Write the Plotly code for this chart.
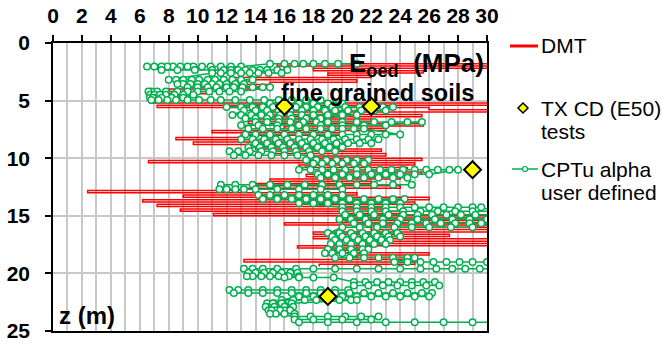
import plotly.graph_objects as go

# ---- DMT constrained modulus profile (one reading per 0.2 m) ----
DMT_Z = [1.6, 1.8, 2.0, 2.2, 2.4, 2.6, 2.8, 3.0, 3.2, 3.4, 3.6, 3.8, 4.0, 4.2, 4.4,
         4.6, 4.8, 5.0, 5.2, 5.4, 5.6, 5.8, 6.0, 6.2, 6.4, 6.6, 6.8, 7.0, 7.2, 7.4,
         7.6, 7.8, 8.0, 8.2, 8.4, 8.6, 8.8, 9.0, 9.2, 9.4, 9.6, 9.8, 10.0, 10.2, 10.4,
         10.6, 10.8, 11.0, 11.2, 11.4, 11.6, 11.8, 12.0, 12.2, 12.4, 12.6, 12.8, 13.0,
         13.2, 13.4, 13.6, 13.8, 14.0, 14.2, 14.4, 14.6, 14.8, 15.0, 15.2, 15.4, 15.6,
         15.8, 16.0, 16.2, 16.4, 16.6, 16.8, 17.0, 17.2, 17.4, 17.6, 17.8, 18.0, 18.2,
         18.4, 18.6, 18.8, 19.0, 19.2, 19.4]
DMT_E = [31.0, 15.5, 31.0, 18.0, 25.6, 19.0, 22.0, 12.3, 21.0, 15.0, 10.0, 14.5, 8.0, 11.0, 7.4,
         9.0, 7.0, 6.7, 31.0, 7.2, 26.0, 31.0, 15.0, 25.5, 14.0, 22.0, 13.5, 25.6, 16.0, 23.0,
         11.0, 20.0, 13.0, 8.5, 17.0, 9.7, 20.0, 14.0, 22.7, 15.0, 23.0, 18.0, 25.5, 6.6, 25.0,
         17.0, 24.5, 19.0, 25.5, 17.5, 24.0, 15.0, 22.0, 14.0, 24.0, 13.0, 2.4, 21.0,
         9.0, 26.0, 6.2, 25.0, 7.2, 23.0, 8.8, 24.0, 11.1, 30.5, 20.0, 31.0, 16.0,
         31.0, 22.0, 31.0, 18.0, 27.4, 18.0, 31.0, 21.0, 31.0, 16.9, 22.0, 19.0, 26.0,
         21.0, 25.0, 13.2, 25.0, 18.4, 18.4]

# ---- CPTu (alpha, user defined): readings grouped by depth ----
CPT_ROW_Z = [1.80, 2.05, 2.35, 2.60, 3.20, 3.55, 3.85, 4.20, 4.50, 4.75, 4.95, 5.25,
             5.55, 5.85, 6.25, 6.55, 6.85, 7.15, 7.45, 7.95, 8.35, 8.70, 9.05, 9.40,
             9.75, 10.15, 10.45, 11.00, 11.40, 11.70, 12.30, 12.70, 13.20, 13.55, 13.90,
             14.25, 14.60, 14.90, 15.30, 15.65, 16.00, 16.50, 16.80, 17.10, 17.45, 17.90,
             18.25, 18.65, 19.00, 19.60, 19.95, 20.25, 20.35, 20.75, 21.05, 21.45, 21.70,
             22.00, 22.30, 22.60, 22.90, 23.20, 23.50, 23.75, 24.00, 24.25]
CPT_ROW_E = [
    [21.0, 19.7, 18.8, 18.0, 17.3, 16.7, 16.0, 15.0],
    [13.0, 12.3, 11.6, 10.9, 10.3, 9.7, 9.3, 8.8, 8.3, 7.9, 7.5, 7.0, 6.5],
    [7.5, 8.6, 9.8, 11.0, 11.8, 12.3, 12.8, 13.3, 13.8, 14.3, 14.8, 15.5, 16.2],
    [15.8, 14.9, 14.2, 13.6, 13.0, 12.3, 11.6, 11.0],
    [8.0, 8.5, 9.0, 9.6, 10.1, 10.7, 11.2, 11.8, 12.4, 13.0, 13.8],
    [13.2, 12.6, 12.0, 11.5, 11.0, 10.5, 10.0, 9.5, 9.0, 8.6],
    [9.3, 10.0, 10.7, 11.3, 12.0, 12.5, 13.1, 13.8, 14.5, 15.0],
    [13.0, 12.2, 11.5, 10.8, 10.0, 9.3, 8.6, 7.8, 7.2, 6.8, 6.6],
    [6.7, 7.0, 7.4, 7.8, 8.4, 9.0, 9.7],
    [9.0, 8.2, 7.5, 7.0, 6.7, 6.9],
    [6.8, 7.3, 7.9, 8.5, 9.3, 10.1, 10.9, 11.6, 12.6, 13.6, 14.6, 15.6, 16.5, 17.5, 18.5],
    [20.0, 19.0, 18.0, 17.0, 16.0, 15.0],
    [12.0, 13.0, 13.8, 14.5, 15.2, 16.0, 16.8, 17.5, 18.3, 19.3, 20.2, 21.2, 22.0, 22.8, 23.5],
    [23.0, 22.2, 21.3, 20.4, 19.5, 18.8, 18.0, 17.2, 16.4, 15.6, 14.8, 14.0, 13.2],
    [12.4, 13.0, 13.7, 14.4, 15.0, 15.7, 16.4, 17.2, 18.0, 19.0, 20.0, 21.0],
    [18.5, 17.5, 16.5, 15.6, 14.8, 14.0, 13.3],
    [14.0, 14.8, 15.6, 16.4, 17.3, 18.2, 19.0, 20.0, 21.0, 22.2, 23.4, 24.5, 25.5],
    [23.0, 21.5, 20.0, 18.5, 17.0, 15.5, 14.2, 13.0],
    [13.5, 14.5, 15.5, 16.5, 17.5, 18.5, 19.3, 20.0, 20.8, 21.5],
    [24.0, 23.0, 22.0, 21.0, 20.0, 19.0, 18.0, 17.0, 16.0, 15.0, 14.0, 13.3],
    [13.0, 13.8, 14.6, 15.4, 16.2, 17.0, 17.8, 18.6, 19.4, 20.2, 21.0, 21.8, 22.5],
    [22.0, 21.2, 20.4, 19.6, 18.8, 18.0, 17.2, 16.4, 15.6, 14.8, 14.0],
    [13.5, 14.3, 15.1, 15.9, 16.7, 17.5, 18.3, 19.1, 20.0],
    [19.5, 18.6, 17.7, 16.8, 16.0, 15.2, 14.4, 13.6, 12.8, 12.2],
    [12.5, 13.3, 14.2, 15.1, 16.0, 16.9, 17.8],
    [17.5, 18.2, 18.9, 19.6, 20.3, 21.0, 21.8],
    [21.5, 20.8, 20.0, 19.3, 18.6, 18.0],
    [17.0, 17.8, 18.6, 19.4, 20.2, 21.0, 21.8, 22.6, 23.4, 24.2, 25.0, 25.8, 26.6, 27.4, 28.0],
    [26.0, 25.0, 24.0, 23.0, 22.0, 21.0, 20.0, 19.0, 18.3],
    [18.5, 19.5, 20.5, 21.5, 22.5, 23.5, 24.5],
    [24.8, 23.5, 22.2, 21.0, 19.8, 18.6, 17.4, 16.2, 15.0, 13.8, 12.6, 11.6],
    [11.5, 12.0, 12.6, 13.2, 14.0, 15.5, 17.0, 18.5, 20.0],
    [20.0, 19.0, 18.0, 17.0, 16.0, 15.0, 14.2],
    [14.5, 15.5, 16.5, 17.5, 18.5, 19.5, 20.5, 21.5, 22.5, 23.5, 24.3],
    [24.0, 23.0, 22.0, 21.0, 20.0, 19.0, 18.0, 17.0],
    [20.0, 21.0, 22.0, 23.0, 24.0, 25.0, 26.0, 27.0, 28.0, 29.0, 29.6],
    [30.5, 29.0, 27.8, 26.6, 25.4, 24.2, 23.0, 22.0, 21.0, 20.0],
    [20.2, 21.2, 22.2, 23.2, 24.2, 25.2, 26.2, 27.2, 28.2, 29.2, 31.0],
    [30.0, 28.8, 27.6, 26.4, 25.2, 24.0, 22.8, 21.6, 20.6, 19.8],
    [20.8, 21.8, 22.8, 23.8, 24.8, 25.8, 26.8, 27.8, 28.8, 29.6, 31.0],
    [29.0, 27.5, 26.0, 24.8, 23.6, 22.4, 21.2, 20.0],
    [19.0, 19.8, 20.6, 21.4, 22.2, 23.0, 23.8],
    [24.0, 23.2, 22.4, 21.6, 20.8, 20.0, 19.3],
    [19.5, 20.3, 21.1, 21.9, 22.7, 23.3],
    [23.0, 22.2, 21.4, 20.6, 19.8, 19.2],
    [19.0, 19.8, 20.6, 21.4, 21.8],
    [21.5, 20.8, 20.0, 19.3, 18.8],
    [19.5, 20.5, 21.5, 22.5, 23.5, 24.5, 25.0],
    [23.6, 24.5, 25.4, 26.3, 27.2, 28.1, 29.0, 30.0, 31.0],
    [30.5, 29.5, 28.5, 27.6, 26.5, 25.4, 24.0, 22.5, 21.0, 19.5, 18.0, 16.8, 15.5, 14.5, 13.8, 13.2],
    [13.5, 14.0, 14.6, 15.2, 15.8, 16.4, 16.9],
    [17.0, 16.3, 15.6, 15.0, 14.4, 13.8, 13.4],
    [16.0, 17.0, 18.0, 19.4],
    [20.8, 21.6, 22.4, 23.2, 24.0, 24.8, 25.6, 26.4],
    [26.7, 25.8, 24.8, 23.8, 22.8, 21.8, 20.8],
    [20.4, 19.5, 18.5, 17.5, 16.5, 15.5, 14.5, 13.5, 12.8, 12.2],
    [12.5, 13.5, 14.5, 15.5, 16.5, 17.5, 18.5, 19.5, 20.5, 21.5, 22.5, 23.5, 24.5, 25.5, 26.2],
    [26.0, 25.0, 24.0, 23.0, 22.0, 21.0, 20.0, 19.0, 18.0, 17.0],
    [15.8, 16.6, 17.4, 18.2, 19.0, 19.8, 20.6, 21.0],
    [16.5, 15.9, 15.3, 14.8, 15.2, 15.8],
    [16.6, 16.0, 15.4, 14.8, 14.7, 15.3],
    [16.0, 15.4, 14.9, 15.1, 15.7, 16.4],
    [16.7, 16.0, 15.4, 15.0],
    [16.7, 17.8, 19.0, 20.2, 21.3, 22.5],
    [22.0, 20.0, 18.0, 16.7],
    [17.0, 19.0, 21.0, 23.0, 25.0, 27.0, 29.0, 31.0],
]

# ---- triaxial CD tests (E50) ----
TX_E = [16.0, 22.0, 29.0, 19.0]
TX_Z = [5.5, 5.5, 11.0, 22.0]

X_TICKS = [0, 2, 4, 6, 8, 10, 12, 14, 16, 18, 20, 22, 24, 26, 28, 30]
Y_TICKS = [0, 5, 10, 15, 20, 25]

RED = "#FF0000"
GREEN = "#00B050"
GRID = "#C8C8C8"
FONT = "Liberation Sans"

cpt_z, cpt_e = [], []
for z, row in zip(CPT_ROW_Z, CPT_ROW_E):
    cpt_z += [z] * len(row)
    cpt_e += row

fig = go.Figure()
fig.add_trace(go.Scatter(x=DMT_E, y=DMT_Z, mode="lines", line=dict(color=RED, width=1.5, shape="vh"),
                         name="DMT", showlegend=False))
fig.add_trace(go.Scatter(x=cpt_e, y=cpt_z, mode="lines+markers",
                         line=dict(color=GREEN, width=1.5),
                         marker=dict(symbol="circle", size=6.5, color="white", line=dict(color=GREEN, width=1.5)),
                         name="CPTu alpha user defined", showlegend=False))
fig.add_trace(go.Scatter(x=TX_E, y=TX_Z, mode="markers",
                         marker=dict(symbol="diamond", size=13, color="#FFFF00", line=dict(color="black", width=2)),
                         name="TX CD (E50) tests", showlegend=False))

# plot area: x 53..487 px, y 43..331 px
L, R, T, B = 53, 487, 43, 331
W, H = 662, 345


def px(x):
    return (x - L) / (R - L)


def py(y):
    return (B - y) / (B - T)


tick_font = dict(family=FONT, size=21, color="black", weight="bold")
fig.update_xaxes(range=[0, 30], side="top", tickvals=X_TICKS, ticktext=[f"<b>{v}</b>" for v in X_TICKS],
                 ticks="outside", ticklen=6, tickwidth=1.5,
                 tickcolor="black", showline=True, linecolor="black", linewidth=1.5, mirror=True,
                 showgrid=True, gridcolor=GRID, gridwidth=1.5, zeroline=False, tickfont=tick_font,
                 ticklabelstandoff=4, automargin=False,
                 minor=dict(dtick=1, tick0=0, showgrid=True, gridcolor=GRID, gridwidth=1.5))
fig.update_yaxes(range=[25, 0], tickvals=Y_TICKS, ticktext=[f"<b>{v}</b>" for v in Y_TICKS],
                 ticks="outside", ticklen=6, tickwidth=1.5,
                 tickcolor="black", showline=True, linecolor="black", linewidth=1.5, mirror=True,
                 showgrid=True, gridcolor=GRID, gridwidth=1.5, zeroline=False, tickfont=tick_font,
                 ticklabelstandoff=11, automargin=False)

annotations = [
    dict(text="E<sub>oed</sub>  (MPa)", x=px(347), y=py(65), xanchor="left", yanchor="middle",
         font=dict(family=FONT, size=26, color="black", weight="bold")),
    dict(text="fine grained soils", x=px(279), y=py(93), xanchor="left", yanchor="middle",
         font=dict(family=FONT, size=23.5, color="black", weight="bold")),
    dict(text="z (m)", x=px(57), y=py(315), xanchor="left", yanchor="middle",
         font=dict(family=FONT, size=24, color="black", weight="bold")),
]
legend_font = dict(family=FONT, size=21, color="black")
for text, ypx in [("DMT", 46), ("TX CD (E50)", 108), ("tests", 131), ("CPTu alpha", 169), ("user defined", 193)]:
    annotations.append(dict(text=text, x=px(539), y=py(ypx), xanchor="left", yanchor="middle", font=legend_font))
for a in annotations:
    a.update(xref="paper", yref="paper", showarrow=False)

shapes = [
    dict(type="line", xref="paper", yref="paper", x0=px(510), x1=px(538), y0=py(46), y1=py(46),
         line=dict(color=RED, width=3)),
    dict(type="line", xref="paper", yref="paper", x0=px(512), x1=px(538), y0=py(169), y1=py(169),
         line=dict(color=GREEN, width=1.5)),
    dict(type="circle", xref="paper", yref="paper", xsizemode="pixel", ysizemode="pixel",
         xanchor=px(525), yanchor=py(169), x0=-2.5, x1=2.5, y0=-2.5, y1=2.5,
         fillcolor="white", line=dict(color=GREEN, width=1.2)),
    dict(type="path", xref="paper", yref="paper", xsizemode="pixel", ysizemode="pixel",
         xanchor=px(523), yanchor=py(108), path="M -5 0 L 0 5 L 5 0 L 0 -5 Z",
         fillcolor="#FFFF00", line=dict(color="black", width=1.5)),
]

fig.update_layout(width=W, height=H, margin=dict(l=L, r=W - R, t=T, b=H - B, pad=0),
                  plot_bgcolor="white", paper_bgcolor="white", showlegend=False,
                  annotations=annotations, shapes=shapes)

fig.write_html("out.html")
